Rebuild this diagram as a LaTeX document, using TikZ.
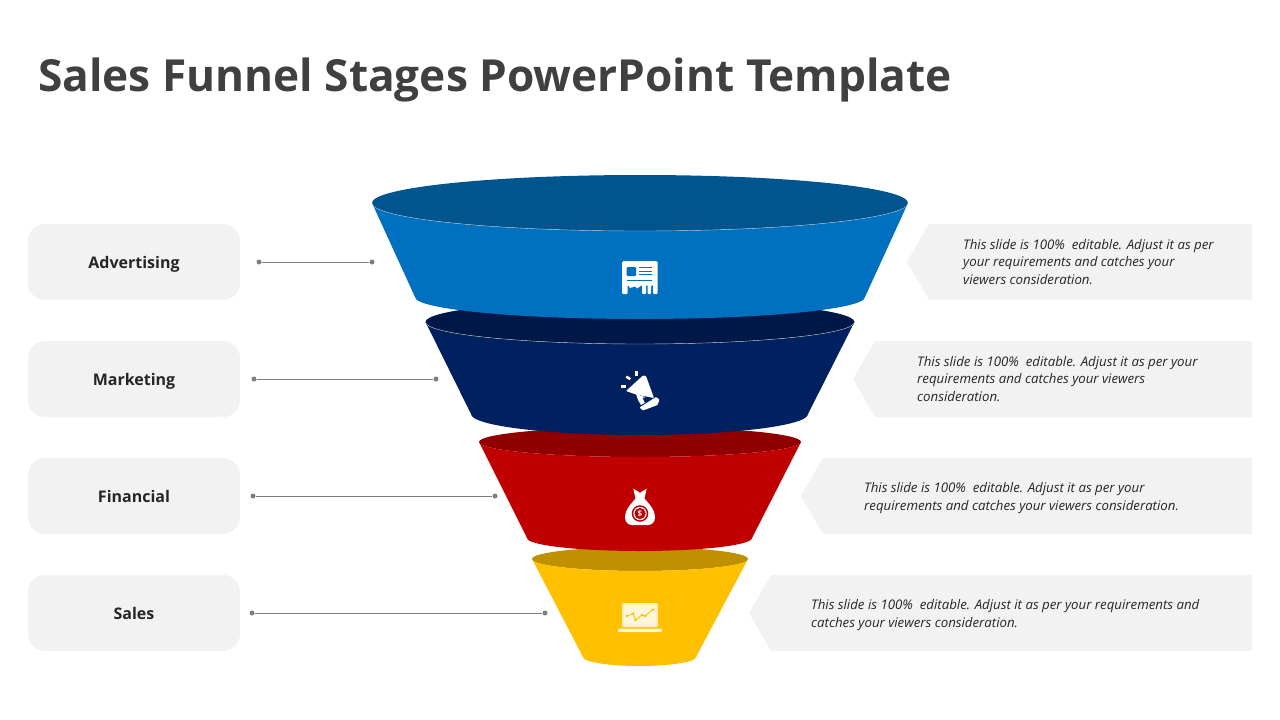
\documentclass[tikz,border=0pt]{standalone}
\usepackage{fontspec}
\setmainfont{Open Sans}
\definecolor{BL}{HTML}{0070C0}
\definecolor{BLT}{HTML}{00558F}
\definecolor{NV}{HTML}{002060}
\definecolor{NVT}{HTML}{001848}
\definecolor{RD}{HTML}{C00000}
\definecolor{RDT}{HTML}{900000}
\definecolor{YL}{HTML}{FFC000}
\definecolor{YLT}{HTML}{BF9000}
\definecolor{PANEL}{HTML}{F2F2F2}
\definecolor{INK}{HTML}{404040}
\definecolor{DOTC}{HTML}{7F7F7F}
\tikzset{
  labelbox/.style={fill=PANEL, rounded corners=17, minimum width=212pt, minimum height=76pt, inner sep=0pt, text height=12pt, text depth=0pt, font=\fontsize{16}{20}\selectfont\bfseries, text=black!85},
  endmark/.style={circle, fill=DOTC, minimum size=5pt, inner sep=0pt},
  leader/.style={DOTC, line width=1pt},
  pointer/.style={fill=PANEL},
  note/.style={anchor=west, align=left, inner sep=0pt, text=black!85, font=\fontsize{13.25}{17.2}\selectfont\itshape},
  rim/.style={white!75!black, line width=0.4pt}
}
\begin{document}
\begin{tikzpicture}[x=1pt, y=-1pt]
  \useasboundingbox (0,0) rectangle (1280,720);
  \node[anchor=base west, inner sep=0pt, text=INK, font=\fontsize{44.2}{50}\selectfont\bfseries] (title) at (38,91) {Sales Funnel Stages PowerPoint Template};

  % left labels and leaders
  \node[labelbox] (advertising) at (134,262) {Advertising};
  \node[labelbox] (marketing) at (134,379) {Marketing};
  \node[labelbox] (financial) at (134,496) {Financial};
  \node[labelbox] (sales) at (134,613) {Sales};
  \node[endmark] (adva) at (259,262) {};
  \node[endmark] (advb) at (372,262) {};
  \node[endmark] (mara) at (254,379) {};
  \node[endmark] (marb) at (436,379) {};
  \node[endmark] (fina) at (253,496) {};
  \node[endmark] (finb) at (495,496) {};
  \node[endmark] (sala) at (252,613) {};
  \node[endmark] (salb) at (545,613) {};
  \draw[leader] (adva) -- (advb);
  \draw[leader] (mara) -- (marb);
  \draw[leader] (fina) -- (finb);
  \draw[leader] (sala) -- (salb);

  % right pointers
  \fill[pointer] (907,262) -- (929,224) -- (1252,224) -- (1252,300) -- (929,300) -- cycle;
  \fill[pointer] (853,379) -- (875,341) -- (1252,341) -- (1252,417) -- (875,417) -- cycle;
  \fill[pointer] (801,496) -- (823,458) -- (1252,458) -- (1252,534) -- (823,534) -- cycle;
  \fill[pointer] (749,613) -- (771,575) -- (1252,575) -- (1252,651) -- (771,651) -- cycle;
  \node[note] (advnote) at (963,262) {This slide is 100\%\ \ editable. Adjust it as per\\your requirements and catches your\\viewers consideration.};
  \node[note] (marnote) at (917,379) {This slide is 100\%\ \ editable. Adjust it as per your\\requirements and catches your viewers\\consideration.};
  \node[note] (finnote) at (864,498) {This slide is 100\%\ \ editable. Adjust it as per your\\requirements and catches your viewers consideration.};
  \node[note] (salnote) at (811,615) {This slide is 100\%\ \ editable. Adjust it as per your requirements and\\catches your viewers consideration.};

  % funnel, bottom stage first
  \fill[YLT] (640,559) circle[x radius=108pt, y radius=12pt];
  \fill[YL] (532,559) arc[start angle=180, end angle=360, x radius=108pt, y radius=12pt] -- (696,657) arc[start angle=0, end angle=-180, x radius=56.5pt, y radius=9pt] -- cycle;
  \fill[RDT] (640,442) circle[x radius=161pt, y radius=15pt];
  \fill[RD] (479,442) arc[start angle=180, end angle=360, x radius=161pt, y radius=15pt] -- (752,538) arc[start angle=0, end angle=-180, x radius=112.5pt, y radius=13pt] -- cycle;
  \fill[NVT] (640,322) circle[x radius=214.5pt, y radius=22pt];
  \fill[NV] (425.5,322) arc[start angle=180, end angle=360, x radius=214.5pt, y radius=22pt] -- (808,414) arc[start angle=0, end angle=-180, x radius=168.5pt, y radius=21pt] -- cycle;
  \draw[rim] (425.5,322) arc[start angle=180, end angle=360, x radius=214.5pt, y radius=22pt];
  \fill[BLT] (640,203) circle[x radius=268pt, y radius=28pt];
  \fill[BL] (372,203) arc[start angle=180, end angle=360, x radius=268pt, y radius=28pt] -- (865,297) arc[start angle=0, end angle=-180, x radius=225pt, y radius=22pt] -- cycle;
  \draw[rim] (372,203) arc[start angle=180, end angle=360, x radius=268pt, y radius=28pt];

  % newspaper icon
  \fill[white, rounded corners=1.5] (622,261) rectangle (657.5,285.5);
  \fill[white] (628,285) -- (630,288) -- (635,286.5) -- (637,288.5) -- (642,285) -- cycle;
  \fill[white, rounded corners=1] (622,283) rectangle (627.5,294);
  \fill[white, rounded corners=1] (642,283) rectangle (646,294);
  \fill[white, rounded corners=1] (647.5,283) rectangle (651,294);
  \fill[white, rounded corners=1] (653,283) rectangle (657.5,294);
  \fill[BL, rounded corners=1] (626.5,267) rectangle (636,276);
  \fill[BL] (639,267) rectangle (652,268.2);
  \fill[BL] (639,270.5) rectangle (652,271.7);
  \fill[BL] (639,274) rectangle (652,275.2);
  \fill[BL] (626.5,280) rectangle (652,281.2);

  % megaphone icon
  \fill[white, rounded corners=0.8] (626,391) -- (643,375.5) -- (646,376) -- (654,398) -- (636,394.5) -- cycle;
  \fill[white] (636,394) -- (645,397) -- (646,402) -- (641,405) -- (638,400) -- cycle;
  \fill[NV] (642.5,397.5) -- (650,398) -- (645,403) -- cycle;
  \fill[white, rounded corners=0.8] (639.5,407.5) -- (656,397) -- (659.5,399.5) -- (657.5,405) -- (643,410.5) -- cycle;
  \fill[white] (625.5,377.5) -- (627,375.5) -- (631,378.2) -- (629.5,380.2) -- cycle;
  \fill[white] (635,371) rectangle (637.7,375.7);
  \fill[white] (621,385) rectangle (625.7,387.7);

  % money bag icon
  \fill[white] (633.3,488.7) -- (640,492.7) -- (646.7,488.7) -- (644.3,499) -- (635.7,499) -- cycle;
  \fill[white] (636,498) .. controls (630,505) and (625,510) .. (625,517) .. controls (625,522) and (628,525) .. (632,525) -- (648,525) .. controls (652,525) and (655,522) .. (655,517) .. controls (655,510) and (650,505) .. (644,498) -- cycle;
  \fill[RD] (640,513.5) circle (8.3);
  \fill[white] (640,513.5) circle (6.7);
  \fill[RD] (640,513.5) circle (5.6);
  \node[inner sep=0pt, text=white, font=\fontsize{8}{8}\selectfont\bfseries] (dollar) at (640,513.5) {\$};

  % laptop icon
  \fill[white!75!YL, rounded corners=1.5] (622,603) rectangle (658,627);
  \fill[white!85!YL] (624,605) rectangle (656,625);
  \fill[white!85!YL, rounded corners=1] (618,628.5) rectangle (662,632);
  \draw[YL, line width=0.9pt] (627,616) -- (633,613.5) -- (635.5,620) -- (642,615) -- (645,616) -- (653,609.5);
  \fill[YL] (627,616) circle (1.3) (633,613.5) circle (1.3) (635.5,620) circle (1.3) (642,615) circle (1.3) (645,616) circle (1.3) (653,609.5) circle (1.3);
\end{tikzpicture}
\end{document}
